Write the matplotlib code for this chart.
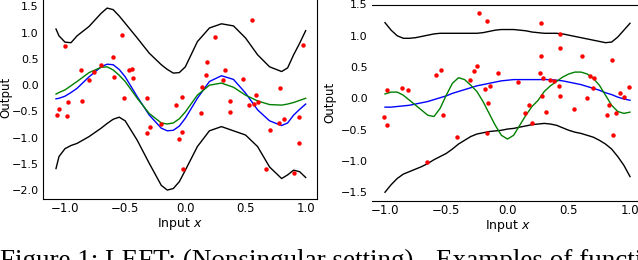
import numpy as np
import matplotlib
matplotlib.use("Agg")
import matplotlib.pyplot as plt

# ---- left panel (nonsingular setting) ----
left_x = [-1.075, -1.05, -1.0, -0.95, -0.9, -0.8, -0.7, -0.65, -0.6, -0.55, -0.5, -0.4,
          -0.3, -0.2, -0.15, -0.1, -0.05, 0.0, 0.1, 0.2, 0.3, 0.4, 0.5, 0.6, 0.7,
          0.8, 0.85, 0.9, 0.95, 1.0]
left_upper = [1.07, 0.94, 0.82, 0.81, 0.94, 1.12, 1.37, 1.47, 1.44, 1.32, 1.18, 0.90,
              0.61, 0.39, 0.30, 0.23, 0.24, 0.35, 0.83, 1.09, 1.17, 1.13, 0.90, 0.58, 0.35,
              0.26, 0.33, 0.58, 0.80, 1.04]
left_lower = [-1.59, -1.36, -1.21, -1.15, -1.11, -0.98, -0.82, -0.73, -0.65, -0.61, -0.68, -1.05,
              -1.49, -1.91, -2.0, -1.97, -1.84, -1.62, -1.17, -0.87, -0.79, -0.87, -0.95, -1.17, -1.56,
              -1.78, -1.71, -1.62, -1.65, -1.76]
left_blue = [-0.26, -0.25, -0.21, -0.14, -0.06, 0.16, 0.35, 0.40, 0.39, 0.30, 0.16, -0.22,
             -0.57, -0.82, -0.87, -0.86, -0.78, -0.63, -0.25, 0.07, 0.18, 0.11, -0.15, -0.47, -0.68,
             -0.77, -0.72, -0.57, -0.46, -0.36]
left_green = [-0.17, -0.14, -0.09, -0.01, 0.07, 0.24, 0.34, 0.35, 0.29, 0.19, 0.07, -0.25,
              -0.54, -0.72, -0.74, -0.72, -0.64, -0.51, -0.19, 0.0, 0.04, -0.04, -0.19, -0.30, -0.37,
              -0.38, -0.36, -0.33, -0.29, -0.25]
left_pts_x = [-1.064, -1.05, -1.0, -0.986, -0.975, -0.87, -0.86, -0.76, -0.80, -0.70,
              -0.60, -0.59, -0.53, -0.51, -0.47, -0.44, -0.435, -0.32, -0.32, -0.29,
              -0.20, -0.08, -0.05, -0.03, -0.03, -0.02, 0.13, 0.136, 0.175, 0.18,
              0.245, 0.31, 0.33, 0.37, 0.37, 0.476, 0.526, 0.55, 0.573, 0.585,
              0.607, 0.668, 0.70, 0.776, 0.79, 0.82, 0.90, 0.945, 0.947, 0.975]
left_pts_y = [-0.56, -0.45, 0.75, -0.58, -0.33, 0.28, -0.30, 0.25, 0.10, 0.39,
              0.53, 0.15, 0.96, -0.25, 0.28, 0.30, 0.14, -0.24, -0.91, -0.80,
              -0.74, -0.37, -1.03, -0.23, -0.89, -1.59, -0.54, -0.03, 0.19, 0.44,
              0.91, 0.10, 0.28, -0.31, -0.52, 0.11, -0.38, 1.24, -0.36, -0.19,
              -0.32, -1.59, -0.85, -0.72, -0.05, -0.64, -1.68, -0.61, -1.11, 0.77]

# ---- right panel ----
right_x = [-1.0, -0.95, -0.9, -0.85, -0.8, -0.75, -0.7, -0.65, -0.6, -0.55, -0.5, -0.45,
           -0.4, -0.35, -0.3, -0.25, -0.2, -0.15, -0.1, -0.05, 0.0, 0.05, 0.1, 0.15,
           0.2, 0.25, 0.3, 0.35, 0.4, 0.45, 0.5, 0.55, 0.6, 0.65, 0.7, 0.75, 0.8,
           0.85, 0.9, 0.95, 1.0]
right_upper = [1.21, 1.09, 1.0, 0.96, 0.96, 0.97, 0.99, 1.01, 1.03, 1.04, 1.04, 1.04,
               1.04, 1.04, 1.04, 1.04, 1.05, 1.07, 1.09, 1.10, 1.10, 1.10, 1.09, 1.08,
               1.06, 1.05, 1.04, 1.04, 1.04, 1.03, 1.01, 0.99, 0.97, 0.95, 0.93, 0.91, 0.89,
               0.90, 0.98, 1.09, 1.20]
right_lower = [-1.5, -1.38, -1.28, -1.21, -1.17, -1.13, -1.09, -1.04, -0.98, -0.93, -0.88, -0.81,
               -0.73, -0.67, -0.61, -0.57, -0.55, -0.53, -0.52, -0.51, -0.49, -0.48, -0.46, -0.44,
               -0.42, -0.41, -0.40, -0.41, -0.43, -0.47, -0.51, -0.54, -0.56, -0.59, -0.62, -0.67, -0.73,
               -0.81, -0.93, -1.07, -1.25]
right_blue = [-0.14, -0.14, -0.13, -0.12, -0.11, -0.09, -0.07, -0.05, -0.02, 0.01, 0.04, 0.08,
              0.11, 0.14, 0.17, 0.20, 0.22, 0.24, 0.26, 0.28, 0.29, 0.30, 0.30, 0.30,
              0.30, 0.30, 0.30, 0.30, 0.29, 0.28, 0.26, 0.24, 0.22, 0.19, 0.16, 0.13, 0.09,
              0.06, 0.02, -0.01, -0.03]
right_green = [0.07, 0.10, 0.10, 0.05, -0.03, -0.11, -0.19, -0.27, -0.29, -0.16, 0.05, 0.24,
               0.33, 0.30, 0.21, 0.11, -0.05, -0.24, -0.43, -0.59, -0.65, -0.59, -0.43, -0.27,
               -0.13, -0.03, 0.11, 0.20, 0.27, 0.34, 0.39, 0.42, 0.42, 0.39, 0.32, 0.21, 0.05,
               -0.11, -0.21, -0.24, -0.22]
right_pts_x = [-1.005, -0.986, -0.98, -0.86, -0.81, -0.66, -0.58, -0.546, -0.53, -0.41,
               -0.31, -0.27, -0.25, -0.235, -0.18, -0.17, -0.16, -0.14, -0.17, -0.075,
               0.086, 0.146, 0.175, 0.20, 0.265, 0.27, 0.27, 0.28, 0.29, 0.315,
               0.35, 0.38, 0.42, 0.43, 0.43, 0.43, 0.54, 0.61, 0.65, 0.67,
               0.695, 0.71, 0.81, 0.826, 0.85, 0.86, 0.885, 0.92, 0.95, 0.99]
right_pts_y = [-0.30, -0.43, 0.13, 0.16, 0.14, -1.02, 0.37, 0.46, -0.26, -0.61,
               0.29, 0.44, 0.51, 1.36, 0.15, 1.23, -0.08, 0.19, -0.56, 0.40,
               0.26, -0.24, -0.11, -0.39, 0.40, 0.68, 1.21, 0.04, 0.33, -0.22,
               0.30, 0.27, 0.19, 0.03, 1.03, 0.81, -0.17, 0.68, 0.0, 0.36,
               0.17, 0.32, -0.26, -0.10, 0.62, -0.58, -0.24, 0.09, 0.02, 0.18]

caption = "Figure 1: LEFT: (Nonsingular setting) - Examples of functi"

fig = plt.figure(figsize=(6.38, 2.6), dpi=100)

def draw(ax, x, upper, lower, blue, green, px, py):
    ax.plot(x, upper, color="k", lw=1.0)
    ax.plot(x, lower, color="k", lw=1.0)
    ax.plot(x, blue, color="b", lw=1.0)
    ax.plot(x, green, color="g", lw=1.0)
    ax.plot(px, py, "o", color="r", ms=3.2, mec="none")
    ax.set_xticks([-1.0, -0.5, 0.0, 0.5, 1.0])
    ax.tick_params(length=0, labelsize=8.5)
    ax.tick_params(axis="x", pad=2)
    ax.tick_params(axis="y", labelsize=8, pad=3)
    ax.set_xlabel("Input $x$", fontsize=9, labelpad=1)
    ax.set_ylabel("Output", fontsize=8.5)

ax1 = fig.add_axes([43 / 638, 1 - 199 / 260, 274 / 638, 203 / 260])
draw(ax1, left_x, left_upper, left_lower, left_blue, left_green, left_pts_x, left_pts_y)
ax1.set_xlim(-1.183, 1.094)
ax1.set_ylim(-2.17, 1.7)
ax1.set_yticks(np.arange(-2.0, 1.51, 0.5))
ax1.yaxis.set_label_coords(-0.112, 0.5)

ax2 = fig.add_axes([372 / 638, 1 - 201 / 260, 271 / 638, 196.5 / 260])
draw(ax2, right_x, right_upper, right_lower, right_blue, right_green, right_pts_x, right_pts_y)
ax2.set_xlim(-1.106, 1.106)
ax2.set_ylim(-1.64, 1.5)
ax2.set_yticks(np.arange(-1.5, 1.51, 0.5))
ax2.spines["left"].set_visible(False)
ax2.spines["right"].set_visible(False)
ax2.yaxis.set_label_coords(-0.13, 0.5)

fig.text(0.0, -0.03, caption, family="Liberation Serif", fontsize=19.5, va="baseline", ha="left")

fig.savefig("out.png", dpi=100)
